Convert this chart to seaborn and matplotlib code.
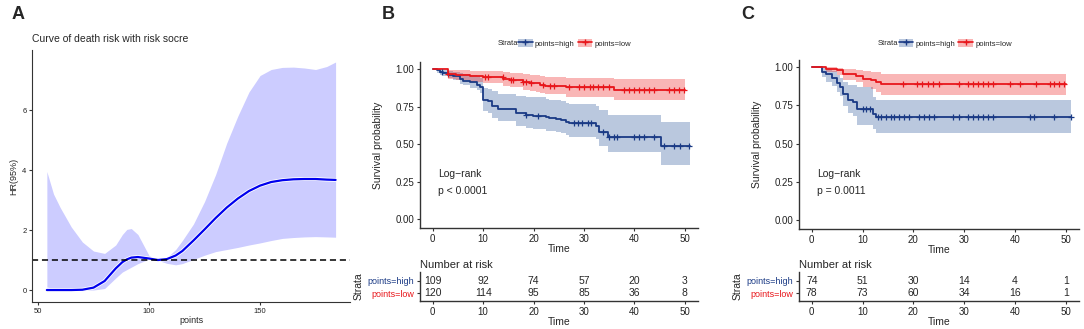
import numpy as np
import matplotlib
matplotlib.use("Agg")
import matplotlib.pyplot as plt
import matplotlib.patheffects as pe
from matplotlib.patches import Patch
from matplotlib.lines import Line2D
import seaborn as sns

sns.set_style("white")
plt.rcParams['font.family'] = ['Liberation Sans', 'DejaVu Sans']

# ---------------- Panel A data ----------------
a_points = [54, 57, 60, 65, 70, 75, 80, 85, 88, 90, 92, 95, 100, 104, 108, 112, 115, 120, 125, 130,
            135, 140, 145, 150, 155, 160, 165, 170, 175, 180, 184]
a_hr = [0, 0, 0, 0, 0.01, 0.08, 0.3, 0.72, 0.93, 1.02, 1.08, 1.1, 1.05, 1.0, 1.03, 1.15, 1.3, 1.65, 2.02, 2.4,
        2.75, 3.05, 3.3, 3.48, 3.6, 3.66, 3.69, 3.7, 3.7, 3.68, 3.67]
a_upper = [3.95, 3.2, 2.75, 2.1, 1.6, 1.3, 1.22, 1.5, 1.85, 2.02, 2.05, 1.85, 1.15, 0.98, 1.08, 1.35, 1.65, 2.2, 2.95, 3.85,
           4.9, 5.8, 6.6, 7.15, 7.35, 7.42, 7.43, 7.4, 7.35, 7.45, 7.6]
a_lower = [0.1, 0.06, 0.03, 0.01, 0.0, 0.0, 0.05, 0.4, 0.6, 0.68, 0.76, 0.88, 1.03, 0.99, 0.89, 0.84, 0.88, 1.02, 1.16, 1.28,
           1.35, 1.42, 1.5, 1.57, 1.65, 1.72, 1.75, 1.77, 1.78, 1.77, 1.76]

# ---------------- Panel B data ----------------
b_high_t = [0, 0.8, 1.5, 2, 3, 4, 5.4, 6, 7.4, 8.7, 9.3, 10, 11, 11.8, 13, 16.6, 18.5, 19.9, 22.5, 23, 24.5,
            25.5, 26.4, 27.1, 32.4, 33, 34.7, 45.2, 51]
b_high_s = [1, .99, .98, .97, .96, .95, .93, .92, .91, .895, .88, .795, .785, .755, .735, .705, .695, .687, .678, .672, .665,
            .66, .65, .64, .623, .58, .545, .488, .488]
b_high_up = [1, 1, .995, .99, .985, .98, .97, .965, .96, .95, .94, .87, .865, .85, .835, .82, .815, .81, .8, .795, .79,
             .785, .775, .77, .755, .725, .695, .65, .65]
b_high_lo = [1, .975, .96, .95, .94, .925, .9, .89, .875, .86, .84, .72, .705, .675, .655, .62, .61, .6, .59, .585, .578,
             .572, .562, .55, .535, .49, .45, .36, .36]
b_high_cens = [1.8, 18.6, 20.9, 28.1, 28.8, 29.7, 30.7, 31.4, 33.7, 35, 36, 36.6, 39.9, 40.9, 41.9, 43.9, 45.9, 47.8,
               49.1, 50.8]

b_low_t = [0, 3, 4.7, 7.4, 10, 14, 15.3, 17.9, 19.2, 20.5, 21.2, 22.2, 26.4, 36, 50]
b_low_s = [1, .967, .96, .953, .945, .933, .927, .916, .909, .905, .894, .887, .878, .86, .86]
b_low_up = [1, .995, .99, .988, .985, .978, .975, .968, .962, .96, .952, .948, .942, .93, .93]
b_low_lo = [1, .935, .925, .915, .905, .888, .878, .86, .853, .848, .838, .83, .815, .795, .795]
b_low_cens = [3.1, 10.3, 11, 13.9, 15.6, 15.9, 17.9, 18.6, 19.5, 21.8, 23.2, 24.1, 27.1, 29.1, 30.1, 31.1, 31.7,
              32.7, 33.7, 35, 38, 38.9, 39.9, 40.9, 41.9, 42.9, 43.9, 46.8, 47.8, 48.8, 49.8]

b_risk_high = [109, 92, 74, 57, 20, 3]
b_risk_low = [120, 114, 95, 85, 36, 8]
b_pval = "p < 0.0001"

# ---------------- Panel C data ----------------
c_high_t = [0, 2, 2.9, 3.9, 4.9, 5.5, 6.2, 7.1, 8.1, 9, 12, 12.7, 51]
c_high_s = [1, .967, .952, .93, .896, .87, .822, .787, .772, .724, .696, .674, .674]
c_high_up = [1, .995, .99, .975, .95, .93, .9, .885, .88, .87, .805, .787, .787]
c_high_lo = [1, .935, .9, .875, .84, .81, .745, .7, .68, .62, .595, .572, .572]
c_high_cens = [10.1, 10.7, 11.4, 13, 13.6, 14.6, 15.6, 16.2, 17.2, 18.2, 19.2, 21.1, 22.1, 23.1, 24, 27.9, 28.9,
               30.8, 31.8, 32.8, 33.8, 34.7, 35.7, 42.9, 43.8, 47.7, 51]

c_low_t = [0, 2.9, 4.9, 6.2, 8.8, 10.1, 11.7, 12.7, 13.6, 50]
c_low_s = [1, .989, .978, .957, .939, .924, .913, .902, .887, .887]
c_low_up = [1, 1, .995, .99, .98, .975, .97, .965, .957, .957]
c_low_lo = [1, .965, .945, .915, .9, .87, .855, .84, .815, .815]
c_low_cens = [17.9, 20.8, 21.8, 22.9, 23.8, 25, 28.9, 30.8, 31.8, 32.7, 33.7, 34.7, 35.7, 39, 40.9, 44.2, 46.8,
              47.7, 48.7, 49.7]

c_risk_high = [74, 51, 30, 14, 4, 1]
c_risk_low = [78, 73, 60, 34, 16, 1]
c_pval = "p = 0.0011"

risk_times = [0, 10, 20, 30, 40, 50]
strata_labels = ["points=high", "points=low"]

BLUE = "#1a3a85"
RED = "#e8161b"
BLUE_FILL = "#3a64a3"
RED_FILL = "#f03030"
SPINE = "#333333"

fig = plt.figure(figsize=(10.84, 3.29), dpi=100)


def style_axes(ax, lw=1.0, fs=7):
    for s in ["top", "right"]:
        ax.spines[s].set_visible(False)
    for s in ["left", "bottom"]:
        ax.spines[s].set_color(SPINE)
        ax.spines[s].set_linewidth(lw)
    ax.tick_params(axis="both", direction="out", length=2.5, width=0.8, color=SPINE,
                   labelsize=fs, labelcolor="#222222", pad=1.5, left=True, bottom=True)


# ---------------- Panel A ----------------
axA = fig.add_axes([0.0295, 0.082, 0.2934, 0.766])
axA.fill_between(a_points, a_lower, a_upper, color="#ccccff", linewidth=0)
sns.lineplot(x=a_points, y=a_hr, ax=axA, color="#0000ee", linewidth=1.6, estimator=None,
             path_effects=[pe.Stroke(linewidth=2.8, foreground="white"), pe.Normal()])
axA.axhline(1, color="black", linestyle=(0, (4, 2.5)), linewidth=1.1)
axA.set_xlim(47.3, 190.5)
axA.set_ylim(-0.4, 8.0)
axA.set_xticks([50, 100, 150])
axA.set_yticks([0, 2, 4, 6])
style_axes(axA, lw=0.8, fs=5.5)
axA.set_xlabel("points", fontsize=6.5, labelpad=1)
axA.set_ylabel("HR(95%)", fontsize=6.5, labelpad=3)
axA.set_title("Curve of death risk with risk socre", loc="left", fontsize=7.5, pad=6)
fig.text(0.011, 0.955, "A", fontsize=13, fontweight="bold", va="center")


# ---------------- KM panels ----------------
def step_lookup(t, s, q):
    t = np.asarray(t)
    s = np.asarray(s)
    idx = np.searchsorted(t, np.asarray(q), side="right") - 1
    return s[idx]


def km_panel(rect_main, rect_tab, groups, risk_rows, pval, letter, letter_x, legend_x):
    ax = fig.add_axes(rect_main)
    for (t, s, up, lo, cens, col, fcol) in groups:
        ax.fill_between(t, lo, up, step="post", color=fcol, alpha=0.35, linewidth=0)
    for (t, s, up, lo, cens, col, fcol) in groups:
        sns.lineplot(x=t, y=s, ax=ax, color=col, linewidth=1.3, drawstyle="steps-post", estimator=None)
        cy = step_lookup(t, s, cens)
        sns.scatterplot(x=cens, y=cy, ax=ax, marker="+", s=20, color=col, linewidth=0.9, zorder=5)
    ax.set_xlim(-2.5, 52.6)
    ax.set_ylim(-0.058, 1.047)
    ax.set_xticks(risk_times)
    ax.set_yticks([0, 0.25, 0.5, 0.75, 1.0])
    ax.set_yticklabels(["0.00", "0.25", "0.50", "0.75", "1.00"])
    style_axes(ax, lw=1.0, fs=7)
    ax.set_xlabel("Time", fontsize=7.5, labelpad=0)
    ax.set_ylabel("Survival probability", fontsize=7.5, labelpad=9)
    ax.text(1, 0.30, "Log\u2212rank", fontsize=7.5, va="center", ha="left")
    ax.text(1, 0.19, pval, fontsize=7.5, va="center", ha="left")

    # legend
    handles = []
    for (t, s, up, lo, cens, col, fcol) in groups:
        handles.append((Patch(facecolor=fcol, alpha=0.35, edgecolor="none"),
                        Line2D([], [], color=col, linewidth=1.2, marker="+", markersize=4)))
    fig.text(legend_x, 0.868, "Strata", fontsize=5.5, va="center", ha="left")
    fig.legend(handles, strata_labels, loc="center left", bbox_to_anchor=(legend_x + 0.019, 0.868),
               ncol=2, fontsize=5.5, frameon=False, handlelength=1.9, handleheight=1.3,
               columnspacing=0.4, handletextpad=0.3, borderpad=0, borderaxespad=0)

    # risk table
    tb = fig.add_axes(rect_tab)
    tb.set_xlim(-2.5, 52.6)
    tb.set_ylim(-0.65, 1.72)
    for row_y, vals in zip([1, 0], risk_rows):
        for tx, v in zip(risk_times, vals):
            tb.text(tx, row_y, str(v), fontsize=7.5, ha="center", va="center")
    tb.set_xticks(risk_times)
    tb.set_yticks([1, 0])
    tb.set_yticklabels(strata_labels)
    style_axes(tb, lw=1.0, fs=7)
    tb.tick_params(axis="y", labelsize=6.5)
    for lab, col in zip(tb.get_yticklabels(), [BLUE, RED]):
        lab.set_color(col)
    tb.set_xlabel("Time", fontsize=7.5, labelpad=0)
    tb.set_ylabel("Strata", fontsize=7.5, labelpad=3)
    tb.set_title("Number at risk", loc="left", fontsize=8, pad=3)
    fig.text(letter_x, 0.955, letter, fontsize=13, fontweight="bold", va="center")
    return ax, tb


km_panel([0.3875, 0.307, 0.2564, 0.505], [0.3875, 0.0851, 0.2564, 0.0882],
         [(b_high_t, b_high_s, b_high_up, b_high_lo, b_high_cens, BLUE, BLUE_FILL),
          (b_low_t, b_low_s, b_low_up, b_low_lo, b_low_cens, RED, RED_FILL)],
         [b_risk_high, b_risk_low], b_pval, "B", 0.352, 0.459)

km_panel([0.7371, 0.304, 0.2583, 0.514], [0.7371, 0.0851, 0.2583, 0.0882],
         [(c_high_t, c_high_s, c_high_up, c_high_lo, c_high_cens, BLUE, BLUE_FILL),
          (c_low_t, c_low_s, c_low_up, c_low_lo, c_low_cens, RED, RED_FILL)],
         [c_risk_high, c_risk_low], c_pval, "C", 0.684, 0.810)

fig.savefig("out.png", dpi=100)
